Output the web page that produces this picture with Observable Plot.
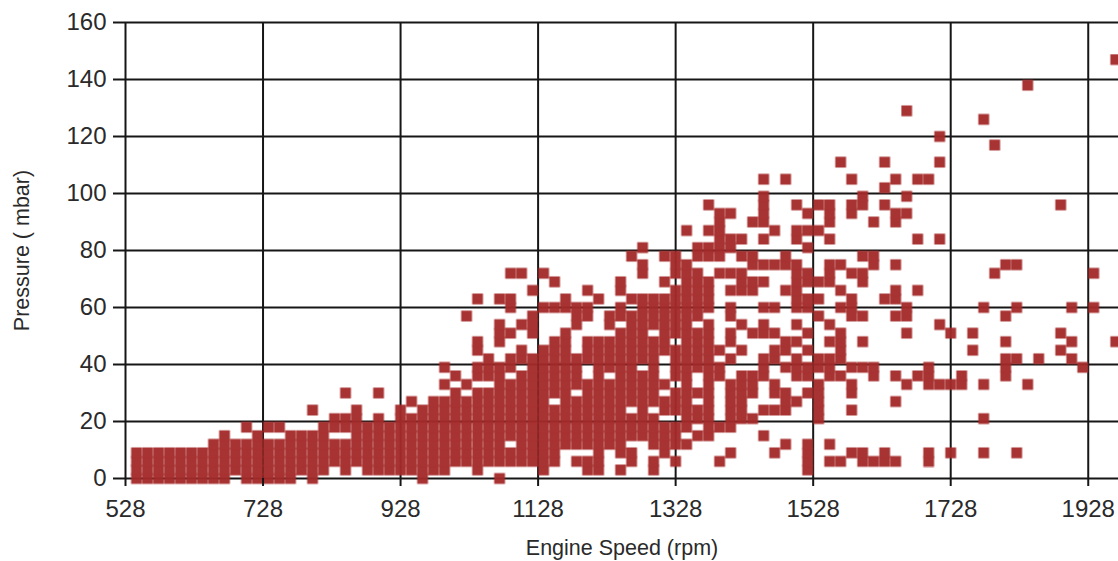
<!DOCTYPE html>
<html><head><meta charset="utf-8">
<script src="https://cdn.jsdelivr.net/npm/d3@7"></script>
<script src="https://cdn.jsdelivr.net/npm/@observablehq/plot@0.6"></script>
<style>html,body{margin:0;padding:0;background:#fff;overflow:hidden}svg{display:block;filter:blur(0.45px)}</style>
</head><body><div id="chart"></div>
<script>
const xTicks = [528,728,928,1128,1328,1528,1728,1928];
const yTicks = [0,20,40,60,80,100,120,140,160];
const rpmColumns = [544,560,576,592,608,624,640,656,672,688,704,720,736,752,768,784,800,816,832,848,864,880,896,912,928,944,960,976,992,1008,1024,1040,1056,1072,1088,1104,1120,1136,1152,1168,1184,1200,1216,1232,1248,1264,1280,1296,1312,1328,1344,1360,1376,1392,1408,1424,1440,1456,1472,1488,1504,1520,1536,1552,1568,1584,1600,1616,1632,1648,1664,1680,1696,1712,1728,1744,1760,1776,1792,1808,1824,1840,1856,1888,1904,1920,1936,1968];
// mbar readings for each rpm column, "a-b" = every 3 mbar level from a to b
const pressureRuns = ["0-9","0-9","0-9","0-9","0-9","0-9","0-9","0-12","0-15","3-12","0-12,18","0-15","0-12,18","0-12,18","0-15","3-15","0-15,24","3-18","6-12,18-21","3-12,18-21,30","6-24","3-18","3-21,30","3-18","3-24","3-21,27","0-24","3-27","3-27,33,39","6-30,36","6-27,33,57","3-30,36-39,45-48,63","6-30,36-42","0,6-39,48-54,63","6-9,15-33,39-42,51,60-63,72","6-36,42-45,54,72","6-42,51-57,66","3-45,60,72","6-24,30-48,60,69","12-51,60-63","6,12-27,33-42,54-60","3-6,12-33,42-48,57-60,66","3-48,63","12-33,39-48,54-57","3,9-51,57-60,66-69","6-9,15-21,27-57,63,78","15-36,42-63,72-75,81","3-6,12-21,27-48,54-63","9-18,24-27,33,45-63,69,78","6,12-18,24-30,36-45,51-66,72-78","12,18-75,87","15,21-24,30,39-51,57-72,78-81","15-54,60-69,78-81,87,96","6,18,36-39,45,72,78-93","9,18-33,42,48-51,57-60,66,72,81-84,93","21-36,45,54,66-72,78,84","21,30-36,51,66-69,75-78,90","15,24,36-42,51-54,60,69,75,84,90-99,105","9,24,30-33,42-45,51,60,75,87","12,24-30,39,45-48,66,75-78,105","27,36-42,48,54,60-75,84-87,96","3-12,30,36-39,45,51,60-63,69-72,81,87,93","21-33,39-42,57,63,69,87,96","6,12,36-42,48,54,69-75,84,90-96","6,36,42-51,60,66,75,111","9,24,30-33,39,57-63,72,93-96,105","6-9,39,48,57,69-72,78,96-99","6,36-39,75-78,90","6-9,63,96,102,111","6,27,36,57,63-66,75,90-93,105","33,51,57-60,93,99,129","36,66,84,105","6-9,33-39,105","33,54,84,111,120","9,33,51","33-36","45,51","9,21,33,60,126","72,117","36-42,48,57,75","9,42,60,75","33,138","42","45,51,96","42,48,60","39","60,72","48,147"];
const rows = [];
pressureRuns.forEach((runs, i) => {
  for (const run of runs.split(",")) {
    const [a, b = a] = run.split("-").map(Number);
    for (let p = a; p <= b; p += 3) rows.push({rpm: rpmColumns[i], mbar: p});
  }
});
const ink = "#161616", textInk = "#2a2a2a";
const chart = Plot.plot({
  width: 1118, height: 561,
  marginLeft: 125, marginRight: 0, marginTop: 22, marginBottom: 83,
  style: {fontFamily: "'Liberation Sans', Arial, sans-serif", background: "#fff", color: textInk},
  x: {domain: [528, 1972], ticks: xTicks, label: null},
  y: {domain: [0, 160], ticks: yTicks, label: null},
  marks: [
    Plot.ruleX(xTicks, {stroke: ink, strokeWidth: 2}),
    Plot.ruleY(yTicks, {stroke: ink, strokeWidth: 2}),
    Plot.dot(rows, {x: "rpm", y: "mbar", symbol: "square", r: 6.1, fill: "#A52A2A", stroke: "none", clip: false}),
    Plot.axisX({ticks: xTicks, tickSize: 8, tickPadding: 13, tickFormat: d => String(d), fontSize: 24, stroke: ink, strokeWidth: 2,
      label: "Engine Speed (rpm)", labelAnchor: "center", labelArrow: "none", labelOffset: 76}),
    Plot.axisY({ticks: yTicks, tickSize: 12, tickPadding: 7, fontSize: 24, stroke: ink, strokeWidth: 2,
      label: "Pressure ( mbar)", labelAnchor: "center", labelArrow: "none", labelOffset: 112})
  ]
});
// squares composite as one layer, so the grid shows faintly and evenly through them
chart.querySelector('g[aria-label="dot"]').setAttribute("opacity", "0.96");
// axis titles are smaller than tick labels in the reference
chart.querySelectorAll('[aria-label="x-axis label"] text, [aria-label="y-axis label"] text').forEach(t => t.setAttribute("font-size", "21.5"));
document.getElementById("chart").append(chart);
</script>
</body></html>
